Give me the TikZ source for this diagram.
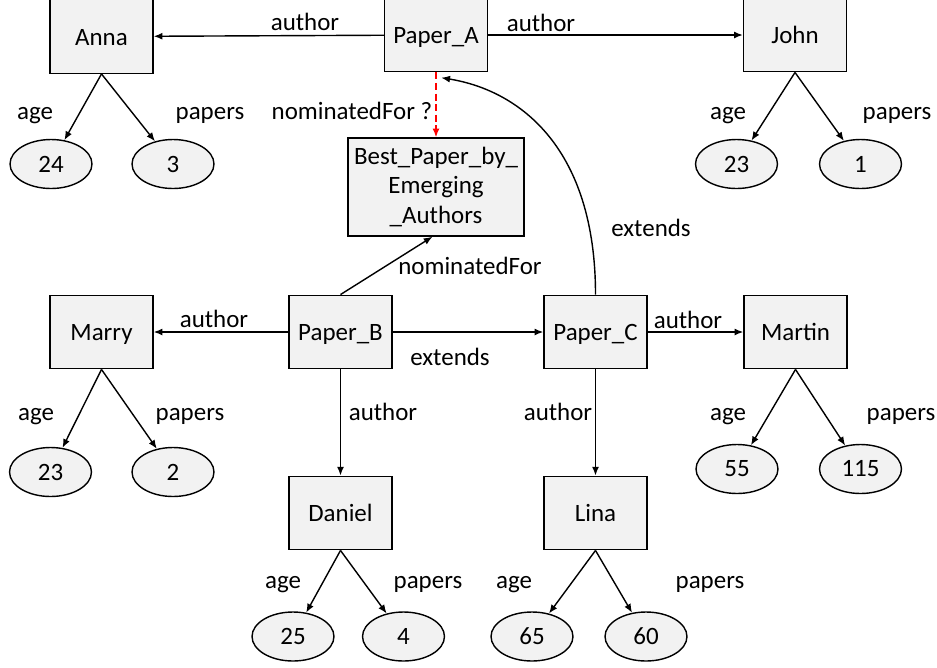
\documentclass[tikz,border=0pt]{standalone}
\usepackage{fontspec}
\setmainfont{Carlito}
\usepackage{xcolor}
\usepackage{tikz}
\usetikzlibrary{
	arrows.meta,
	shapes.geometric
}
\definecolor{boxgray}{RGB}{242,242,242}

\begin{document}
\begin{tikzpicture}[x=0.02cm, y=-0.02cm,
	font=\fontsize{14.2}{17}\selectfont,
	box/.style={draw, fill=boxgray, line width=0.8pt, minimum width=2.06cm, minimum height=1.47cm, inner sep=1pt},
	entity/.style={box, text height=1.3em, text depth=0.3em},
	val/.style={draw, ellipse, fill=boxgray, line width=0.8pt, minimum width=1.64cm, minimum height=0.98cm, inner sep=0pt},
	lbl/.style={inner sep=0pt, anchor=base},
	arr/.style={-{Latex[length=5pt,width=4pt]}, line width=0.8pt}]
	\useasboundingbox (0,0) rectangle (937,667);
	
	% papers and authors
	\node[entity] (Anna)   at (101.5,36.5) {Anna};
	\node[entity] (PaperA) at (436,35) {Paper\_A};
	\node[entity] (John)   at (795,35) {John};
	\node[box, align=center, minimum width=3.52cm, minimum height=1.96cm] (Best) at (436,187)
		{Best\_Paper\_by\_\\Emerging\\\_Authors};
	\node[entity] (Marry)  at (101.5,332) {Marry};
	\node[entity] (PaperB) at (340.5,332) {Paper\_B};
	\node[entity] (PaperC) at (595.5,332) {Paper\_C};
	\node[entity] (Martin) at (795.5,332) {Martin};
	\node[entity] (Daniel) at (340.5,513) {Daniel};
	\node[entity] (Lina)   at (595.5,513) {Lina};
	
	% attribute values
	\node[val] (AnnaAge)    at (51,164)  {24};
	\node[val] (AnnaPap)    at (173,164) {3};
	\node[val] (JohnAge)    at (736.5,164) {23};
	\node[val] (JohnPap)    at (860.5,164) {1};
	\node[val] (MarryAge)   at (50.5,472) {23};
	\node[val] (MarryPap)   at (173,472)  {2};
	\node[val] (MartinAge)  at (737,469)   {55};
	\node[val] (MartinPap)  at (860.5,469) {115};
	\node[val] (DanielAge)  at (293,636.5)   {25};
	\node[val] (DanielPap)  at (403.5,636.5) {4};
	\node[val] (LinaAge)    at (532,636.5) {65};
	\node[val] (LinaPap)    at (646,636.5) {60};
	
	% relations between papers and authors
	\draw[arr] (PaperA) -- (Anna)  node[lbl] (lA1) at (305,30) {author};
	\draw[arr] (PaperA) -- (John)  node[lbl] (lA2) at (541,31) {author};
	\draw[arr, red, dash pattern=on 4pt off 2pt] (PaperA.south) -- (Best.north)
		node[lbl, black] (lNom1) at (352,119) {nominatedFor ?};
	\draw[arr] (PaperB.north) -- ([xshift=-2pt]Best.south)
		node[lbl] (lNom2) at (470,274) {nominatedFor};
	\draw[arr] (PaperC.north) .. controls +(0,-145) and +(80,13) .. ([xshift=3pt,yshift=-3pt]PaperA.south)
		node[lbl] (lExt1) at (651,236) {extends};
	\draw[arr] (PaperB) -- (Marry)  node[lbl] (lB1) at (214,327) {author};
	\draw[arr] (PaperB) -- (PaperC) node[lbl] (lExt2) at (450,365) {extends};
	\draw[arr] (PaperB) -- (Daniel) node[lbl] (lB2) at (383,420) {author};
	\draw[arr] (PaperC) -- (Martin) node[lbl] (lC1) at (688,328) {author};
	\draw[arr] (PaperC) -- (Lina)   node[lbl] (lC2) at (558,420) {author};
	
	% age and papers of each author
	\draw[arr] (Anna.south) -- (AnnaAge) node[lbl] (lAnnaAge) at (35,119) {age};
	\draw[arr] (Anna.south) -- (AnnaPap) node[lbl] (lAnnaPap) at (210,119) {papers};
	\draw[arr] (John.south) -- (JohnAge) node[lbl] (lJohnAge) at (728,119) {age};
	\draw[arr] (John.south) -- (JohnPap) node[lbl] (lJohnPap) at (897,119) {papers};
	\draw[arr] (Marry.south) -- (MarryAge) node[lbl] (lMarryAge) at (36,420) {age};
	\draw[arr] (Marry.south) -- (MarryPap) node[lbl] (lMarryPap) at (190,420) {papers};
	\draw[arr] (Martin.south) -- (MartinAge) node[lbl] (lMartinAge) at (728,420) {age};
	\draw[arr] (Martin.south) -- (MartinPap) node[lbl] (lMartinPap) at (901,420) {papers};
	\draw[arr] (Daniel.south) -- (DanielAge) node[lbl] (lDanielAge) at (283,588) {age};
	\draw[arr] (Daniel.south) -- (DanielPap) node[lbl] (lDanielPap) at (428,588) {papers};
	\draw[arr] (Lina.south) -- (LinaAge) node[lbl] (lLinaAge) at (514,588) {age};
	\draw[arr] (Lina.south) -- (LinaPap) node[lbl] (lLinaPap) at (710,588) {papers};
\end{tikzpicture}
\end{document}
